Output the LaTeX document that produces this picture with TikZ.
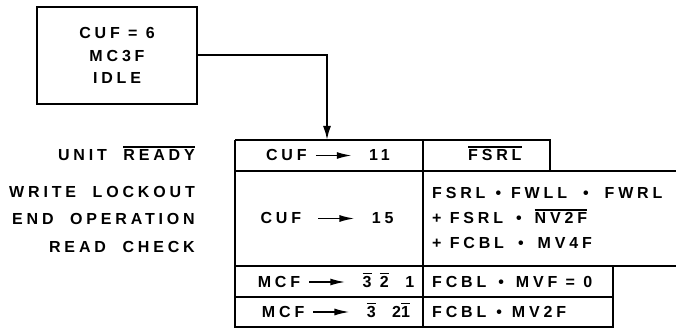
\documentclass[tikz,border=0pt]{standalone}
\usepackage{fontspec}
\newfontfamily\lettering{Liberation Sans}[LetterSpace=24]
\usetikzlibrary{arrows.meta}
\newcommand{\ovr}[1]{\leavevmode\vbox{\hrule height 1.6pt\kern 2.2pt\hbox{#1}}}
\newcommand{\becomes}{\tikz[x=1pt,y=1pt,baseline=-5.5pt]\draw[line width=1.6pt,-{Latex[length=15pt,width=7pt]}] (0,0) -- (36,0);}
\newcommand{\andsep}[1]{\hspace{#1}•\hspace{#1}}
\tikzset{
    txt/.style={font=\lettering\bfseries\fontsize{16}{22.5}\selectfont, inner sep=0pt},
    rule/.style={line width=2pt},
}
\begin{document}
\begin{tikzpicture}[x=1pt, y=-1pt]
    \useasboundingbox (0,0) rectangle (676,328);
    \node[txt, draw, rule, minimum width=160pt, minimum height=97pt, align=center] (state) at (117,55.5) {CUF = 6\\MC3F\\IDLE};
    \coordinate (drop) at (327,140);
    \draw[rule, -{Latex[length=14pt,width=8pt]}] (state.east) -| (drop);
    \node[txt] (lready) at (195,161) [anchor=base east] {UNIT~~\ovr{READY}};
    \node[txt] (llock) at (195,198) [anchor=base east] {WRITE~~LOCKOUT};
    \node[txt] (lend) at (195,225) [anchor=base east] {END~~OPERATION};
    \node[txt] (lcheck) at (195,252) [anchor=base east] {READ~~CHECK};
    \draw[rule] (235,140) -- (550,140) -- (550,171);
    \draw[rule] (235,140) -- (235,327) -- (613,327) -- (613,266);
    \draw[rule] (423,140) -- (423,327);
    \draw[rule] (235,171) -- (676,171);
    \draw[rule] (235,266) -- (676,266);
    \draw[rule] (235,297) -- (613,297);
    \node[txt] (ra) at (328,161) [anchor=base] {CUF~\becomes~~11};
    \node[txt] (rb) at (327,224) [anchor=base] {CUF~~\becomes~~15};
    \node[txt] (rc) at (336,287.5) [anchor=base] {MCF~\becomes~~\ovr{3}~\ovr{2}~~1};
    \node[txt] (rd) at (336,317.5) [anchor=base] {MCF~\becomes~~\ovr{3}~~2\ovr{1}};
    \node[txt] (sa) at (468,161) [anchor=base west] {\ovr{FSRL}};
    \node[txt] (sb) at (432,199) [anchor=base west] {FSRL\andsep{10pt}FWLL\andsep{16pt}FWRL};
    \node[txt] (sc) at (432,224) [anchor=base west] {+ FSRL\andsep{13pt}\ovr{NV2F}};
    \node[txt] (sd) at (432,249) [anchor=base west] {+ FCBL\andsep{14pt}MV4F};
    \node[txt] (se) at (432,287.5) [anchor=base west] {FCBL\andsep{12pt}MVF = 0};
    \node[txt] (sf) at (432,317.5) [anchor=base west] {FCBL\andsep{10pt}MV2F};
\end{tikzpicture}
\end{document}
